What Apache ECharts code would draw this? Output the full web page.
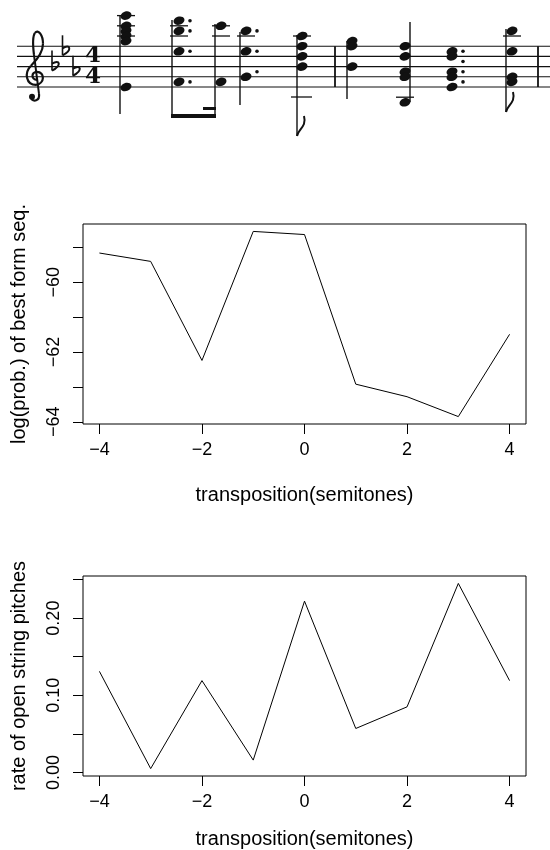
<!DOCTYPE html>
<html>
<head>
<meta charset="utf-8">
<script src="https://cdn.jsdelivr.net/npm/echarts@6/dist/echarts.min.js"></script>
<style>
  html, body { margin: 0; padding: 0; background: #fff; }
  #chart { width: 550px; height: 850px; }
</style>
</head>
<body>
<div id="chart"></div>
<script>
// transposition in semitones
const transpositions = [-4, -3, -2, -1, 0, 1, 2, 3, 4];
// log(prob.) of best form sequence
const logProb = [-59.16, -59.40, -62.24, -58.54, -58.63, -62.92, -63.28, -63.85, -61.49];
// rate of open string pitches
const openRate = [0.131, 0.005, 0.119, 0.016, 0.222, 0.057, 0.085, 0.245, 0.119];

const xTicks = [-4, -2, 0, 2, 4];
const logTicks = [-64, -63, -62, -61, -60, -59];
const logLabels = [-64, -62, -60];
const rateTicks = [0, 0.05, 0.1, 0.15, 0.2, 0.25];
const rateLabels = [0, 0.1, 0.2];

// score excerpt drawn above the plots (steps counted up from the bottom staff line)
const keyFlats = [4, 7, 3];
const chords = [
  { x: 126, steps: [14, 12, 11, 10, 9, 0], stem: [120, 15, 114] },
  { x: 179, steps: [13, 11, 7, 1], dots: [13, 11, 7, 1], stem: [172, 20, 118] },
  { x: 221, steps: [12, 1], stem: [215, 24, 118] },
  { x: 246, steps: [11, 7, 2], dots: [11, 7, 3], stem: [240, 32, 105] },
  { x: 302, steps: [10, 8, 6, 4], stem: [297, 35, 136], flag: true },
  { x: 352, steps: [9, 8, 4], stem: [347, 41, 99] },
  { x: 405, steps: [8, 6, 3, 2, -3], stem: [410, 22, 102] },
  { x: 452, steps: [7, 6, 3, 2, 0], dots: [7, 5, 3, 1] },
  { x: 512, steps: [11, 7, 2, 1], stem: [506, 29, 112], flag: true }
];
const barLines = [335, 538];

const font = '"Liberation Sans", Arial, Helvetica, sans-serif';
const ink = '#111';

// R style axis range: data range padded by 4% each side
function pad(vals) {
  const lo = Math.min(...vals), hi = Math.max(...vals);
  const r = hi - lo;
  return [lo - 0.04 * r, hi + 0.04 * r];
}
const xRange = pad(transpositions);
const logRange = pad(logProb);
const rateRange = pad(openRate);

const minus = v => String(v).replace('-', '\u2212');

// ---- music notation helpers ----
const STAFF_BOTTOM = 87, STEP = 5.1;
const yOf = s => STAFF_BOTTOM - s * STEP;
const music = [];
function line(x1, y1, x2, y2, w) {
  music.push({ type: 'line', silent: true, shape: { x1, y1, x2, y2 }, style: { stroke: ink, lineWidth: w || 1.2 } });
}
function bez(ox, oy, p) {
  music.push({
    type: 'bezierCurve', silent: true,
    shape: { x1: ox + p[0], y1: oy + p[1], cpx1: ox + p[2], cpy1: oy + p[3], cpx2: ox + p[4], cpy2: oy + p[5], x2: ox + p[6], y2: oy + p[7] },
    style: { stroke: ink, lineWidth: p[8] || 2.2, fill: null }
  });
}
function dot(x, y, r) {
  music.push({ type: 'circle', silent: true, shape: { cx: x, cy: y, r }, style: { fill: ink } });
}

for (let i = 0; i < 5; i++) line(17, yOf(2 * i), 550, yOf(2 * i), 1.1);
barLines.forEach(x => line(x, yOf(8), x, yOf(0), 1.8));

// treble clef
const gx = 35, gy = yOf(2);
[
  [2, 3, -4, 3, -4, -5, 2, -5],
  [2, -5, 10, -5, 10, 7, 1, 8],
  [1, 8, -9, 8, -11, -4, -4, -11],
  [-4, -11, 2, -17, 8, -24, 8, -33],
  [8, -33, 8, -42, 3, -48, 0, -44],
  [0, -44, -3, -40, -2, -30, -1, -22],
  [4, 17, 5, 24, -2, 26, -4, 21]
].forEach(p => bez(gx, gy, p));
line(gx - 1, gy - 22, gx + 4, gy + 17, 2);
dot(gx - 3, gy + 20, 3);

// key signature
keyFlats.forEach((s, i) => {
  const x = 52 + i * 10.5, y = yOf(s);
  line(x, y - 16, x, y + 4, 1.6);
  bez(x, y, [0, 4, 10, -1, 8, -8, 0, -3, 2]);
});

// time signature
[6, 2].forEach(s => music.push({
  type: 'text', silent: true, x: 93, y: yOf(s),
  style: { text: '4', fontSize: 23, fontWeight: 'bold', fontFamily: '"DejaVu Serif", serif', fill: ink, align: 'center', verticalAlign: 'middle' }
}));

chords.forEach(c => {
  const hi = Math.max(...c.steps), lo = Math.min(...c.steps);
  for (let s = 10; s <= hi; s += 2) line(c.x - 9, yOf(s), c.x + 9, yOf(s), 1.3);
  for (let s = -2; s >= lo; s -= 2) line(c.x - 9, yOf(s), c.x + 9, yOf(s), 1.3);
  c.steps.forEach(s => music.push({
    type: 'ellipse', silent: true, x: c.x, y: yOf(s), rotation: 0.35,
    shape: { cx: 0, cy: 0, rx: 5.6, ry: 4.1 }, style: { fill: ink }
  }));
  (c.dots || []).forEach(s => dot(c.x + 11, yOf(s), 1.8));
  if (c.stem) {
    const [sx, y1, y2] = c.stem;
    line(sx, y1, sx, y2, 1.4);
    if (c.flag) bez(sx, y2, [0, 0, 1, -7, 10, -9, 7, -20, 2]);
  }
});
// beams of the dotted rhythm and an extra ledger mark
music.push({ type: 'rect', silent: true, shape: { x: 171, y: 114, width: 45, height: 4 }, style: { fill: ink } });
music.push({ type: 'rect', silent: true, shape: { x: 203, y: 107, width: 13, height: 3 }, style: { fill: ink } });
line(291, 97, 312, 97, 1.3);

// ---- plots ----
const tickStyle = { color: '#000', width: 1 };
function xAxisFor(i, gap) {
  return {
    type: 'value', gridIndex: i, min: xRange[0], max: xRange[1],
    axisLine: { show: false, onZero: false }, splitLine: { show: false },
    axisTick: { show: true, length: 10, lineStyle: tickStyle, customValues: xTicks },
    axisLabel: { customValues: xTicks, formatter: minus, fontSize: 18, color: '#000', fontFamily: font, margin: 17 },
    name: 'transposition(semitones)', nameLocation: 'middle', nameGap: gap,
    nameTextStyle: { fontSize: 20, color: '#000', fontFamily: font }
  };
}
function yAxisFor(i, range, ticks, labels, fmt, name) {
  return {
    type: 'value', gridIndex: i, min: range[0], max: range[1],
    axisLine: { show: false, onZero: false }, splitLine: { show: false },
    axisTick: { show: true, length: 10, lineStyle: tickStyle, customValues: ticks },
    axisLabel: { customValues: labels, formatter: fmt, rotate: 90, fontSize: 18, color: '#000', fontFamily: font, margin: 20 },
    name, nameLocation: 'middle', nameGap: 54,
    nameTextStyle: { fontSize: 20, color: '#000', fontFamily: font }
  };
}

const chart = echarts.init(document.getElementById('chart'));
chart.setOption({
  animation: false,
  backgroundColor: '#fff',
  graphic: { elements: music },
  grid: [
    { left: 83, top: 224, width: 443, height: 200, show: true, borderColor: '#000', borderWidth: 1, outerBoundsMode: 'none' },
    { left: 83, top: 576, width: 443, height: 200, show: true, borderColor: '#000', borderWidth: 1, outerBoundsMode: 'none' }
  ],
  xAxis: [xAxisFor(0, 61), xAxisFor(1, 53)],
  yAxis: [
    yAxisFor(0, logRange, logTicks, logLabels, minus, 'log(prob.) of best form seq.'),
    yAxisFor(1, rateRange, rateTicks, rateLabels, v => v.toFixed(2), 'rate of open string pitches')
  ],
  series: [
    {
      type: 'line', xAxisIndex: 0, yAxisIndex: 0, symbol: 'none', silent: true,
      lineStyle: { color: '#000', width: 1 },
      data: transpositions.map((t, i) => [t, logProb[i]])
    },
    {
      type: 'line', xAxisIndex: 1, yAxisIndex: 1, symbol: 'none', silent: true,
      lineStyle: { color: '#000', width: 1 },
      data: transpositions.map((t, i) => [t, openRate[i]])
    }
  ]
});
</script>
</body>
</html>
